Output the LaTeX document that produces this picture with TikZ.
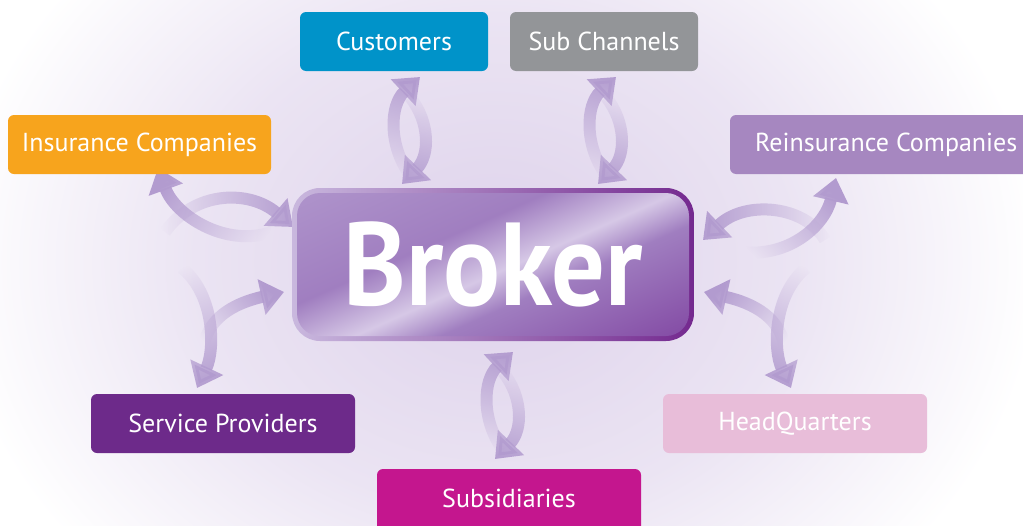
\documentclass[tikz,border=0pt]{standalone}
\usepackage{fontspec}
\setmainfont{PT Sans}
\newfontfamily\brokerfont[FakeStretch=0.9]{PT Sans}
\usetikzlibrary{arrows.meta,fadings}
\definecolor{custc}{HTML}{0093C9}
\definecolor{subc}{HTML}{939598}
\definecolor{insc}{HTML}{F7A41D}
\definecolor{reinc}{HTML}{A687C0}
\definecolor{servc}{HTML}{6D2A8A}
\definecolor{hqc}{HTML}{E8BDD9}
\definecolor{subsc}{HTML}{C4168E}
\definecolor{arrowc}{HTML}{B29BCF}
\definecolor{glow}{HTML}{DED2EB}
\definecolor{glow2}{HTML}{EBE4F3}
\definecolor{rimL}{HTML}{C9B8DE}
\definecolor{rimR}{HTML}{74298F}
\definecolor{bk1}{HTML}{B9A3D3}
\definecolor{bk2}{HTML}{A07EC0}
\definecolor{bkhi}{HTML}{D6C8E6}
\definecolor{bk4}{HTML}{6E2590}
\pgfdeclarehorizontalshading{brokershade}{100bp}{color(0bp)=(bk1); color(40bp)=(bk2); color(52bp)=(bkhi); color(60bp)=(bk2); color(100bp)=(bk4)}
\pgfdeclareradialshading{glowshade}{\pgfpoint{0bp}{0bp}}{color(0bp)=(glow); color(11bp)=(glow2); color(20bp)=(white); color(50bp)=(white)}
\tikzfading[name=tailfade, left color=transparent!100, middle color=transparent!30, right color=transparent!0]
\tikzset{
  box/.style={rounded corners=6pt, minimum height=59pt, text=white,
    font=\fontsize{26}{30}\selectfont, inner sep=0pt},
  boxtext/.style={text=white, font=\fontsize{26}{30}\selectfont, inner sep=0pt},
  farrow/.style={line width=12pt, draw=arrowc,
    -{Triangle[length=23pt,width=35pt]}, path fading=tailfade, fading angle=#1},
}
\begin{document}
\begin{tikzpicture}[x=1pt,y=-1pt]
\useasboundingbox (0,0) rectangle (1023,525);
\clip (0,0) rectangle (1023,525);
% background glow
\shade[shading=glowshade] (495,262) ellipse (680 and 560);

% arrows: Insurance
\draw[farrow=151] (272,232) .. controls (225,248) and (175,215) .. (158,168);
\draw[farrow=2] (165,232) .. controls (195,190) and (250,190) .. (293,227);
% Reinsurance
\draw[farrow=38] (740,252) .. controls (790,258) and (825,225) .. (836,178);
\draw[farrow=180] (825,240) .. controls (805,205) and (745,200) .. (703,240);
% Customers
\draw[farrow=84] (410,175) .. controls (388,145) and (390,105) .. (420,77);
\draw[farrow=265] (410,97) .. controls (430,122) and (430,155) .. (402,184);
% Sub Channels
\draw[farrow=84] (606,175) .. controls (584,145) and (586,105) .. (616,77);
\draw[farrow=265] (606,97) .. controls (626,122) and (626,155) .. (598,184);
% Subsidiaries
\draw[farrow=84] (503,450) .. controls (481,420) and (483,380) .. (513,352);
\draw[farrow=265] (503,372) .. controls (523,397) and (523,430) .. (495,459);
% Service Providers
\draw[farrow=36] (203,352) .. controls (205,318) and (235,303) .. (284,292);
\draw[farrow=-83] (182,268) .. controls (215,295) and (215,350) .. (197,388);
% HeadQuarters
\draw[farrow=144] (785,352) .. controls (783,318) and (753,303) .. (704,292);
\draw[farrow=263] (806,268) .. controls (773,295) and (773,350) .. (791,388);

% boxes
\node[box, fill=custc, minimum width=188pt] (cust) at (394,41.5) {Customers};
\node[box, fill=subc, minimum width=188pt] (sub) at (604,41.5) {Sub Channels};
\node[box, fill=insc, minimum width=263pt] (ins) at (139.5,144.5) {Insurance Companies};
\node[box, fill=reinc, minimum width=300pt] (rein) at (880,144.5) {};
\node[boxtext, anchor=west] (reintext) at (755,144.5) {Reinsurance Companies};
\node[box, fill=servc, minimum width=264pt] (serv) at (223,423.5) {Service Providers};
\node[box, fill=hqc, minimum width=264pt] (hq) at (795,423.5) {HeadQuarters};
\node[box, fill=subsc, minimum width=264pt, minimum height=70pt] (subs) at (509,504) {};
\node[boxtext] (substext) at (509,498) {Subsidiaries};

% broker
\shade[rounded corners=28pt, left color=rimL, right color=rimR] (292,188) rectangle (694,341);
\node[rounded corners=23pt, minimum width=392pt, minimum height=143pt, inner sep=0pt,
  shading=brokershade, shading angle=-66, text=white,
  font=\brokerfont\bfseries\fontsize{118}{120}\selectfont] (broker) at (493,264.5) {Broker};
\end{tikzpicture}
\end{document}
